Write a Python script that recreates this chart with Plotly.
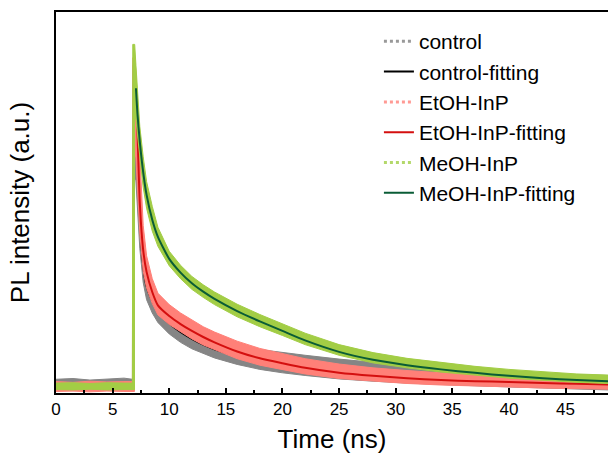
import plotly.graph_objects as go

# ---------------- data (normalized PL intensity) ----------------
# time grid for the fitted curves (ns)
T_FIT = [7.06, 7.2, 7.4, 7.7, 8.0, 8.5, 9.0, 10, 11, 12, 13, 14, 16, 18, 20, 22, 25, 28, 31,
         34, 37, 40, 43, 46, 48.75]

ctrl_fit = [0.80, 0.66, 0.47, 0.335, 0.28, 0.242, 0.215, 0.183, 0.160, 0.142, 0.127, 0.115, 0.097,
            0.084, 0.075, 0.068, 0.060, 0.053, 0.048, 0.044, 0.040, 0.037, 0.034, 0.031, 0.029]
etoh_fit = [0.80, 0.68, 0.50, 0.375, 0.318, 0.265, 0.230, 0.202, 0.181, 0.163, 0.147, 0.133, 0.109,
            0.091, 0.078, 0.066, 0.053, 0.045, 0.039, 0.034, 0.031, 0.029, 0.026, 0.024, 0.022]
meoh_fit = [0.80, 0.73, 0.66, 0.58, 0.52, 0.455, 0.41, 0.352, 0.316, 0.288, 0.266, 0.247, 0.215,
            0.188, 0.163, 0.138, 0.108, 0.087, 0.073, 0.062, 0.053, 0.045, 0.039, 0.034, 0.031]

# measured data: upper / lower envelopes of the noisy point clouds
T_UP = [0, 1.5, 3, 4.5, 6, 6.75, 6.78, 6.95, 7.06, 7.2, 7.4, 7.7, 8.0, 8.5, 9, 10, 11, 12, 13, 14,
        16, 18, 20, 22, 25, 28, 31, 34, 37, 40, 43, 46, 48.75]
T_LO = [0, 1.5, 3, 4.5, 6, 6.93, 6.93, 7.05, 7.2, 7.4, 7.7, 8.0, 8.5, 9, 10, 11, 12, 13, 14,
        16, 18, 20, 22, 25, 28, 31, 34, 37, 40, 43, 46, 48.75]

ctrl_up = [0.036, 0.038, 0.034, 0.037, 0.039, 0.036, 0.86, 0.86,
           0.82, 0.70, 0.53, 0.38, 0.315, 0.27, 0.24, 0.208, 0.185, 0.167, 0.152, 0.140, 0.124,
           0.114, 0.106, 0.099, 0.089, 0.080, 0.072, 0.066, 0.061, 0.056, 0.052, 0.048, 0.046]
ctrl_lo = [0.008, 0.006, 0.009, 0.007, 0.008, 0.008, 0.56,
           0.56, 0.50, 0.38, 0.29, 0.245, 0.21, 0.185, 0.155, 0.133, 0.116, 0.103, 0.092, 0.075,
           0.062, 0.053, 0.046, 0.037, 0.031, 0.026, 0.022, 0.019, 0.016, 0.013, 0.010, 0.008]

etoh_up = [0.030, 0.028, 0.031, 0.029, 0.030, 0.030, 0.88, 0.88,
           0.84, 0.75, 0.59, 0.44, 0.36, 0.30, 0.262, 0.232, 0.210, 0.191, 0.174, 0.160, 0.136,
           0.117, 0.103, 0.090, 0.076, 0.066, 0.059, 0.053, 0.049, 0.046, 0.042, 0.039, 0.037]
etoh_lo = [0.004, 0.005, 0.003, 0.005, 0.004, 0.004, 0.62,
           0.62, 0.55, 0.42, 0.32, 0.275, 0.235, 0.205, 0.180, 0.160, 0.142, 0.126, 0.113, 0.090,
           0.073, 0.061, 0.050, 0.038, 0.031, 0.025, 0.021, 0.018, 0.016, 0.013, 0.011, 0.010]

meoh_up = [0.026, 0.027, 0.025, 0.027, 0.026, 0.026, 0.915, 0.915,
           0.86, 0.78, 0.70, 0.62, 0.555, 0.49, 0.435, 0.372, 0.335, 0.306, 0.284, 0.265, 0.233,
           0.206, 0.181, 0.157, 0.127, 0.106, 0.091, 0.080, 0.070, 0.062, 0.056, 0.050, 0.047]
meoh_lo = [0.009, 0.008, 0.010, 0.008, 0.009, 0.009, 0.72,
           0.72, 0.68, 0.62, 0.54, 0.485, 0.425, 0.385, 0.334, 0.300, 0.272, 0.251, 0.232, 0.200,
           0.174, 0.151, 0.127, 0.099, 0.079, 0.066, 0.055, 0.047, 0.039, 0.033, 0.028, 0.025]

names = ["control", "control-fitting", "EtOH-InP", "EtOH-InP-fitting", "MeOH-InP", "MeOH-InP-fitting"]
X_TICKS = [0, 5, 10, 15, 20, 25, 30, 35, 40, 45]

# ---------------- styles ----------------
C_CTRL, C_CTRL_FIT = "#858585", "#000000"
C_ETOH, C_ETOH_FIT = "#FF8078", "#D40F0F"
C_MEOH, C_MEOH_FIT = "#A2CD45", "#0A5C36"

fig = go.Figure()


def add_series(t_up, up, t_lo, lo, color, legcolor, dname, fit, fcolor, fname):
    fig.add_trace(go.Scatter(
        x=t_up + t_lo[::-1], y=up + lo[::-1], mode="lines", fill="toself",
        fillcolor=color, line=dict(color=color, width=1), showlegend=False, hoverinfo="skip"))
    fig.add_trace(go.Scatter(
        x=[None], y=[None], mode="lines", name=dname,
        line=dict(color=legcolor, width=3, dash="dot")))
    fig.add_trace(go.Scatter(
        x=T_FIT, y=fit, mode="lines", name=fname, line_shape="spline",
        line=dict(color=fcolor, width=2, smoothing=0.6)))


add_series(T_UP, ctrl_up, T_LO, ctrl_lo, C_CTRL, "#999999", names[0], ctrl_fit, C_CTRL_FIT, names[1])
add_series(T_UP, etoh_up, T_LO, etoh_lo, C_ETOH, "#FF9A94", names[2], etoh_fit, C_ETOH_FIT, names[3])
add_series(T_UP, meoh_up, T_LO, meoh_lo, C_MEOH, "#B3D86A", names[4], meoh_fit, C_MEOH_FIT, names[5])

FONT = "Liberation Sans, Arial, sans-serif"

fig.update_layout(
    width=608, height=455,
    margin=dict(l=56, r=0, t=12, b=62),
    plot_bgcolor="white", paper_bgcolor="white",
    font=dict(family=FONT, size=16, color="black"),
    legend=dict(x=0.585, y=0.976, xanchor="left", yanchor="top",
                bgcolor="rgba(0,0,0,0)", font=dict(size=21, color="black"),
                tracegroupgap=0),
)

fig.update_xaxes(
    range=[0, 48.75], tickvals=X_TICKS, ticktext=[str(v) for v in X_TICKS],
    ticks="inside", ticklen=5, tickwidth=1.5, tickcolor="black",
    minor=dict(dtick=2.5, tick0=0, ticks="inside", ticklen=3, tickwidth=1.5, tickcolor="black"),
    showline=True, linewidth=1.5, linecolor="black", mirror=True,
    showgrid=False, zeroline=False,
    tickfont=dict(size=17),
    title=dict(text="Time (ns)", font=dict(size=26), standoff=12),
)
fig.update_yaxes(
    range=[0, 1], showticklabels=False, ticks="",
    showline=True, linewidth=1.5, linecolor="black",
    showgrid=False, zeroline=False,
    title=dict(text="PL intensity (a.u.)", font=dict(size=26), standoff=17),
)

fig.write_html("out.html")
